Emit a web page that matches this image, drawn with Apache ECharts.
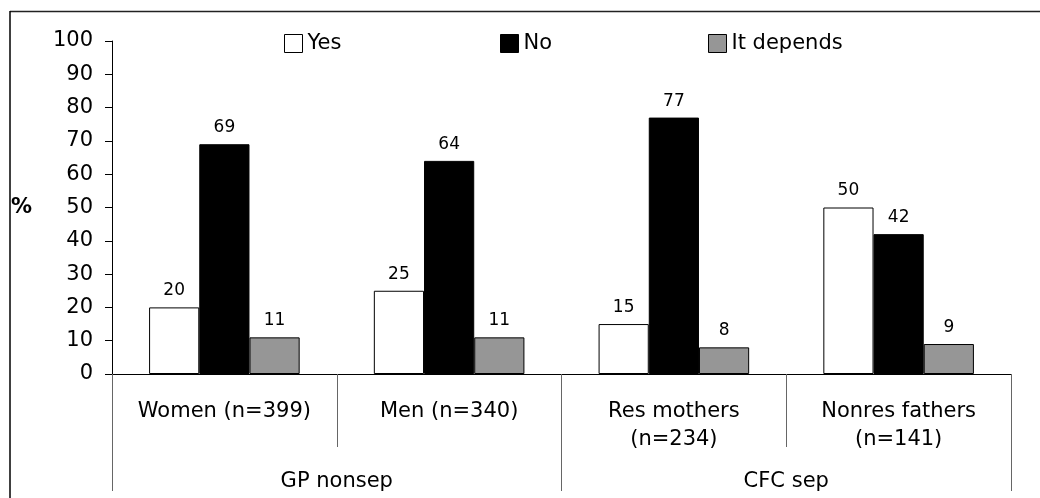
<!DOCTYPE html>
<html>
<head>
<meta charset="utf-8">
<script src="https://cdn.jsdelivr.net/npm/echarts@6/dist/echarts.min.js"></script>
<style>
  html, body { margin: 0; padding: 0; background: #fff; }
  #chart { width: 1040px; height: 498px; }
</style>
</head>
<body>
<div id="chart"></div>
<script>
var categories = ['Women (n=399)', 'Men (n=340)', 'Res mothers\n(n=234)', 'Nonres fathers\n(n=141)'];
var groups = ['GP nonsep', 'CFC sep'];
var seriesNames = ['Yes', 'No', 'It depends'];
var yesValues = [20, 25, 15, 50];
var noValues = [69, 64, 77, 42];
var dependsValues = [11, 11, 8, 9];

var font = 'DejaVu Sans';

function barSeries(name, data, color) {
    return {
        name: name,
        type: 'bar',
        data: data,
        barGap: '0%',
        barCategoryGap: '33%',
        itemStyle: { color: color, borderColor: '#000', borderWidth: 1 },
        label: {
            show: true,
            position: 'top',
            distance: 8,
            color: '#000',
            fontFamily: font,
            fontSize: 17
        }
    };
}

// one legend per entry so each sits where the original puts it
var legendLefts = [279, 495, 703];
var legends = seriesNames.map(function (name, i) {
    return {
        left: legendLefts[i],
        top: 28,
        itemWidth: 18,
        itemHeight: 18,
        icon: 'rect',
        itemStyle: { borderColor: '#000', borderWidth: 1 },
        textStyle: { fontFamily: font, fontSize: 21, color: '#000' },
        data: [name]
    };
});

var myChart = echarts.init(document.getElementById('chart'));
myChart.setOption({
    animation: false,
    backgroundColor: '#fff',
    grid: { left: 112, right: 29, top: 41, bottom: 124 },
    legend: legends,
    xAxis: [{
        type: 'category',
        data: categories,
        axisLine: { lineStyle: { color: '#000', width: 1 } },
        axisTick: { show: true, length: 73, interval: 0, lineStyle: { color: '#666' } },
        axisLabel: {
            interval: 0, margin: 24, color: '#000', fontFamily: font, fontSize: 21, lineHeight: 28
        }
    }, {
        type: 'category',
        data: groups,
        position: 'bottom',
        axisLine: { show: false },
        axisTick: { show: true, length: 117, interval: 0, lineStyle: { color: '#666' } },
        axisLabel: { interval: 0, margin: 97, color: '#000', fontFamily: font, fontSize: 21, lineHeight: 22 }
    }],
    yAxis: {
        type: 'value',
        min: 0,
        max: 100,
        interval: 10,
        name: '%',
        nameLocation: 'middle',
        nameRotate: 0,
        nameGap: 80,
        nameTextStyle: { fontFamily: font, fontSize: 21, fontWeight: 'bold', color: '#000' },
        axisLine: { show: true, lineStyle: { color: '#000' } },
        axisTick: { show: true, length: 7, lineStyle: { color: '#000' } },
        splitLine: { show: false },
        axisLabel: { margin: 19, color: '#000', fontFamily: font, fontSize: 21 }
    },
    graphic: [
        { type: 'line', shape: { x1: 10, y1: 11.5, x2: 1040, y2: 11.5 }, style: { stroke: '#222', lineWidth: 1.5 } },
        { type: 'line', shape: { x1: 10, y1: 11, x2: 10, y2: 498 }, style: { stroke: '#000', lineWidth: 1.5 } }
    ],
    series: [
        barSeries('Yes', yesValues, '#fff'),
        barSeries('No', noValues, '#000'),
        barSeries('It depends', dependsValues, '#969696')
    ]
});
</script>
</body>
</html>
